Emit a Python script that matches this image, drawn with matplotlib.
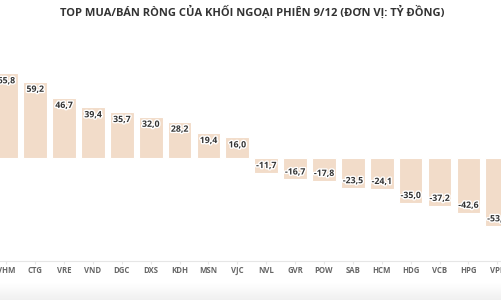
import matplotlib
matplotlib.use("Agg")
import matplotlib.pyplot as plt
import matplotlib.patheffects as pe
import numpy as np

categories = ["VHM", "CTG", "VRE", "VND", "DGC", "DXS", "KDH", "MSN", "VJC",
              "NVL", "GVR", "POW", "SAB", "HCM", "HDG", "VCB", "HPG", "VPB"]
values = [65.8, 59.2, 46.7, 39.4, 35.7, 32.0, 28.2, 19.4, 16.0,
          -11.7, -16.7, -17.8, -23.5, -24.1, -35.0, -37.2, -42.6, -53.1]
title = "TOP MUA/BÁN RÒNG CỦA KHỐI NGOẠI PHIÊN 9/12 (ĐƠN VỊ: TỶ ĐỒNG)"

W, H = 501, 300
fig = plt.figure(figsize=(W / 100, H / 100), dpi=100)
fig.patch.set_facecolor("white")

# bottom gradient
gax = fig.add_axes([0, 0, 1, 17 / H])
grad = np.linspace(0, 1, 50).reshape(-1, 1)
gax.imshow(grad, aspect="auto", cmap=matplotlib.colors.LinearSegmentedColormap.from_list(
    "g", ["#f0f0f0", "#ffffff"]), extent=[0, 1, 0, 1], origin="lower")
gax.axis("off")

# main axes: y pixel 261 (bottom) to 40 (top)
y_bot, y_top = 261, 40
ax = fig.add_axes([0, 1 - y_bot / H, 1, (y_bot - y_top) / H])
scale = 1.287  # px per unit
zero_px = 158
ymin = -(y_bot - zero_px) / scale
ymax = (zero_px - y_top) / scale
ax.set_ylim(ymin, ymax)
px_per_cat = 28.88
x0 = -6.3 / px_per_cat
ax.set_xlim(x0, x0 + W / px_per_cat)

x = np.arange(len(categories))
ax.bar(x, values, width=0.82, color="#f2dcc9", edgecolor="white", linewidth=0.8)

for xi, v in zip(x, values):
    off = -7.5 / scale if v > 0 else 7.5 / scale
    ax.text(xi, v + off, f"{v:.1f}".replace(".", ","), ha="center", va="center",
            fontsize=6.3, fontweight="bold", color="#333333", family="Open Sans",
            path_effects=[pe.withStroke(linewidth=2, foreground="white")])

ax.set_xticks(x)
ax.set_xticklabels(categories, fontsize=5.6, fontweight="bold", color="#666666",
                   family="Open Sans")
ax.tick_params(axis="x", length=2, color="#e6e6e6", pad=1.5)
ax.set_yticks([])
for s in ["top", "left", "right"]:
    ax.spines[s].set_visible(False)
ax.spines["bottom"].set_color("#e6e6e6")
ax.spines["bottom"].set_linewidth(0.8)
ax.patch.set_alpha(0)

fig.text(0.503, 1 - 12.5 / H, title, ha="center", va="center", fontsize=8.0,
         fontweight="bold", color="#333333", family="Open Sans")

fig.savefig("out.png", dpi=100)
